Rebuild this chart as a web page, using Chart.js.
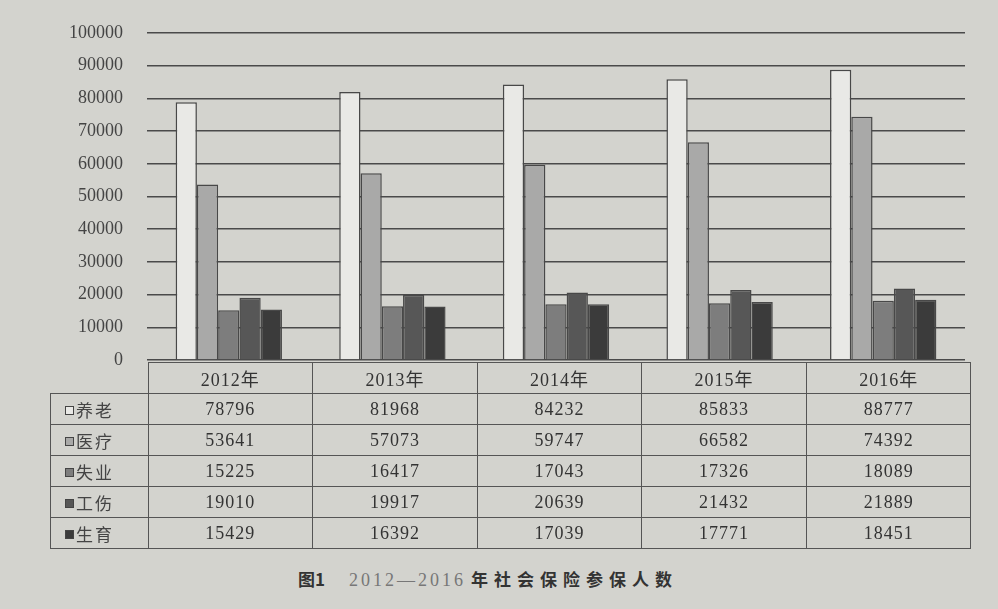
<!DOCTYPE html>
<html>
<head>
<meta charset="utf-8">
<script src="https://cdn.jsdelivr.net/npm/chart.js@4.4.0/dist/chart.umd.min.js"></script>
<style>
  body { margin: 0; background: #d3d3ce; }
  #wrap { position: relative; width: 998px; height: 609px; overflow: hidden; background: #d3d3ce; }
  #chart { position: absolute; left: 0; top: 0; }
  #dataTable {
    position: absolute; left: 50px; top: 362px;
    border-collapse: collapse;
    font-family: "Liberation Serif", "Noto Sans CJK SC", serif;
    font-size: 18px; color: #333; letter-spacing: 1px;
  }
  #dataTable td { border: 1.5px solid #555; height: 30px; padding: 0; text-align: center; }
  #dataTable td.name { text-align: left; padding-left: 14px; font-family: "Noto Sans CJK SC", sans-serif; font-size: 17px; color: #444; letter-spacing: 2px; }
  #dataTable td.blank { border: none; border-bottom: 1.5px solid #555; }
  .mark { display: inline-block; width: 7px; height: 7px; border: 1px solid #444; margin-right: 2px; vertical-align: 2px; }
  #caption {
    position: absolute; left: 298px; top: 566px; white-space: nowrap;
    font-family: "Noto Sans CJK SC", sans-serif; font-size: 17px; color: #333;
  }
  #caption .yr { font-family: "Liberation Serif", serif; font-weight: normal; color: #777; font-size: 18px; letter-spacing: 3px; margin: 0 5px 0 24px; }
  #caption .t { letter-spacing: 6px; font-weight: bold; }
</style>
</head>
<body>
<div id="wrap">
  <canvas id="chart" width="998" height="372"></canvas>
  <table id="dataTable"></table>
  <div id="caption"><b>图1</b><span class="yr">2012—2016</span><span class="t">年社会保险参保人数</span></div>
</div>
<script>
const years = ['2012年', '2013年', '2014年', '2015年', '2016年'];
const seriesNames = ['养老', '医疗', '失业', '工伤', '生育'];
const pension = [78796, 81968, 84232, 85833, 88777];
const medical = [53641, 57073, 59747, 66582, 74392];
const unemployment = [15225, 16417, 17043, 17326, 18089];
const injury = [19010, 19917, 20639, 21432, 21889];
const maternity = [15429, 16392, 17039, 17771, 18451];
const yTicks = [0, 10000, 20000, 30000, 40000, 50000, 60000, 70000, 80000, 90000, 100000];

const seriesValues = [pension, medical, unemployment, injury, maternity];
const fills = ['#e9e9e6', '#a9a9a8', '#7d7d7d', '#575757', '#3b3b3b'];

const chart = new Chart(document.getElementById('chart'), {
  type: 'bar',
  data: {
    labels: years,
    datasets: seriesNames.map((name, i) => ({
      label: name,
      data: seriesValues[i],
      backgroundColor: fills[i],
      borderColor: '#484848',
      borderWidth: 1.5,
      barPercentage: 1.0,
      categoryPercentage: 0.65
    }))
  },
  options: {
    responsive: false,
    animation: false,
    layout: { padding: { left: 0, right: 33, top: 33, bottom: 12 } },
    plugins: { legend: { display: false }, tooltip: { enabled: false } },
    scales: {
      x: { display: false },
      y: {
        min: 0,
        max: 100000,
        afterBuildTicks: (scale) => { scale.ticks = yTicks.map(v => ({ value: v })); },
        afterFit: (scale) => {
          scale.width = 147;
          // labels may hang into the padding; keep the plot exactly where the padding puts it
          scale.paddingTop = 0;
          scale.paddingBottom = 0;
        },
        border: { display: false },
        grid: { color: '#4a4a4a', lineWidth: 1.5, drawTicks: false },
        ticks: {
          color: '#444',
          padding: 24,
          font: { family: 'Liberation Serif', size: 18 },
          callback: (v) => String(v)
        }
      }
    }
  }
});

function buildTable() {
  const area = chart.chartArea;
  const colW = (area.right - area.left) / years.length;
  const table = document.getElementById('dataTable');
  let html = '<tr><td class="blank" style="width:' + (area.left - 50) + 'px"></td>';
  years.forEach(y => { html += '<td style="width:' + colW + 'px">' + y + '</td>'; });
  html += '</tr>';
  seriesNames.forEach((name, i) => {
    html += '<tr><td class="name"><span class="mark" style="background:' + fills[i] + '"></span>' + name + '</td>';
    seriesValues[i].forEach(v => { html += '<td>' + v + '</td>'; });
    html += '</tr>';
  });
  table.innerHTML = html;
}
buildTable();
</script>
</body>
</html>
